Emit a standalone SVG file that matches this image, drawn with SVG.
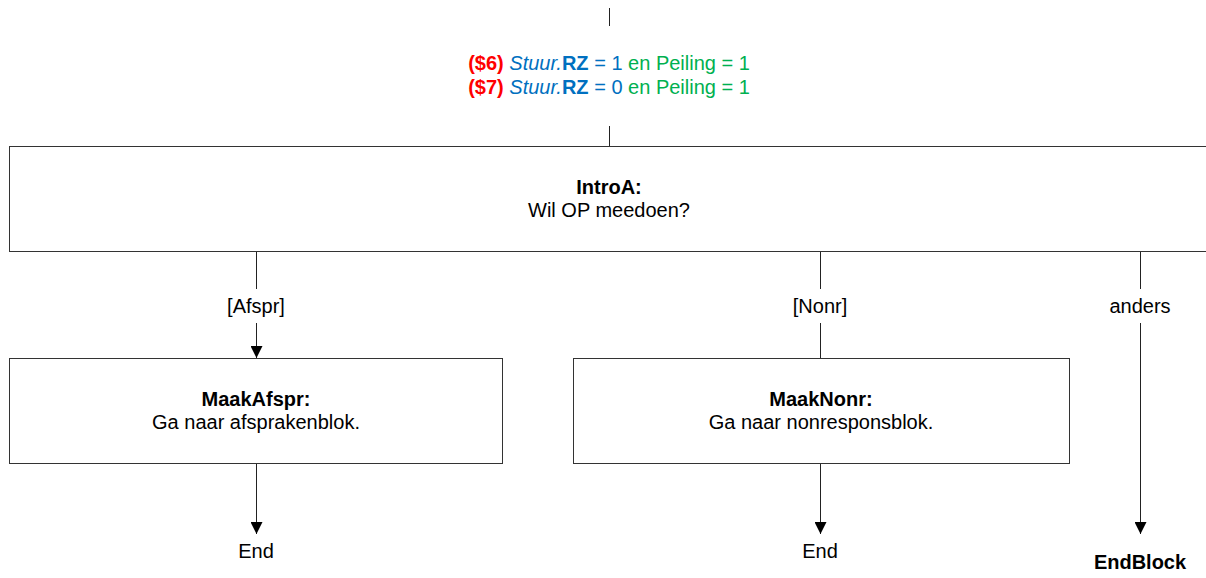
<svg xmlns="http://www.w3.org/2000/svg" width="1206" height="578" viewBox="0 0 1206 578">
<style>
  text { font-family: "Liberation Sans", Arial, sans-serif; font-size: 20px; fill: #000; }
  .b { font-weight: bold; }
  .box { fill: #fff; stroke: #333; stroke-width: 1; }
  .ln { stroke: #222; stroke-width: 1; fill: none; }
  .red { fill: #ff0000; font-weight: bold; }
  .blue { fill: #0070c0; }
  .green { fill: #00b050; }
</style>
<defs>
  <marker id="arr" markerWidth="12" markerHeight="12" refX="12" refY="6" orient="auto" markerUnits="userSpaceOnUse">
    <path d="M0,0 L12,6 L0,12 z" fill="#000"/>
  </marker>
</defs>
<rect width="1206" height="578" fill="#fff"/>

<g id="connectors">
  <line class="ln" x1="609.5" y1="8" x2="609.5" y2="26"/>
  <line class="ln" x1="609.5" y1="126" x2="609.5" y2="146"/>
  <line class="ln" x1="256.5" y1="251" x2="256.5" y2="289"/>
  <line class="ln" x1="256.5" y1="323" x2="256.5" y2="358" marker-end="url(#arr)"/>
  <line class="ln" x1="820.5" y1="251" x2="820.5" y2="289"/>
  <line class="ln" x1="820.5" y1="323" x2="820.5" y2="358"/>
  <line class="ln" x1="1140.5" y1="251" x2="1140.5" y2="289"/>
  <line class="ln" x1="1140.5" y1="323" x2="1140.5" y2="534" marker-end="url(#arr)"/>
  <line class="ln" x1="256.5" y1="463" x2="256.5" y2="534" marker-end="url(#arr)"/>
  <line class="ln" x1="820.5" y1="463" x2="820.5" y2="534" marker-end="url(#arr)"/>
  <text x="256" y="313" text-anchor="middle">[Afspr]</text>
  <text x="820" y="313" text-anchor="middle">[Nonr]</text>
  <text x="1140" y="313" text-anchor="middle">anders</text>
</g>

<g id="condition">
  <text x="609" y="70" text-anchor="middle"><tspan class="red">($6)</tspan> <tspan class="blue" font-style="italic">Stuur.</tspan><tspan class="blue b">RZ</tspan><tspan class="blue"> = 1 </tspan><tspan class="green">en Peiling = 1</tspan></text>
  <text x="609" y="94" text-anchor="middle"><tspan class="red">($7)</tspan> <tspan class="blue" font-style="italic">Stuur.</tspan><tspan class="blue b">RZ</tspan><tspan class="blue"> = 0 </tspan><tspan class="green">en Peiling = 1</tspan></text>
</g>

<g id="IntroA">
  <rect class="box" x="9.5" y="146.5" width="1250" height="105"/>
  <text x="609" y="194" text-anchor="middle" class="b">IntroA:</text>
  <text x="609" y="217" text-anchor="middle">Wil OP meedoen?</text>
</g>

<g id="MaakAfspr">
  <rect class="box" x="9.5" y="358.5" width="493" height="105"/>
  <text x="256" y="406" text-anchor="middle" class="b">MaakAfspr:</text>
  <text x="256" y="429" text-anchor="middle">Ga naar afsprakenblok.</text>
</g>

<g id="MaakNonr">
  <rect class="box" x="573.5" y="358.5" width="496" height="105"/>
  <text x="821" y="406" text-anchor="middle" class="b">MaakNonr:</text>
  <text x="821" y="429" text-anchor="middle">Ga naar nonresponsblok.</text>
</g>

<g id="End1">
  <text x="256" y="558" text-anchor="middle">End</text>
</g>
<g id="End2">
  <text x="820" y="558" text-anchor="middle">End</text>
</g>
<g id="EndBlock">
  <text x="1140" y="569" text-anchor="middle" class="b">EndBlock</text>
</g>
</svg>
